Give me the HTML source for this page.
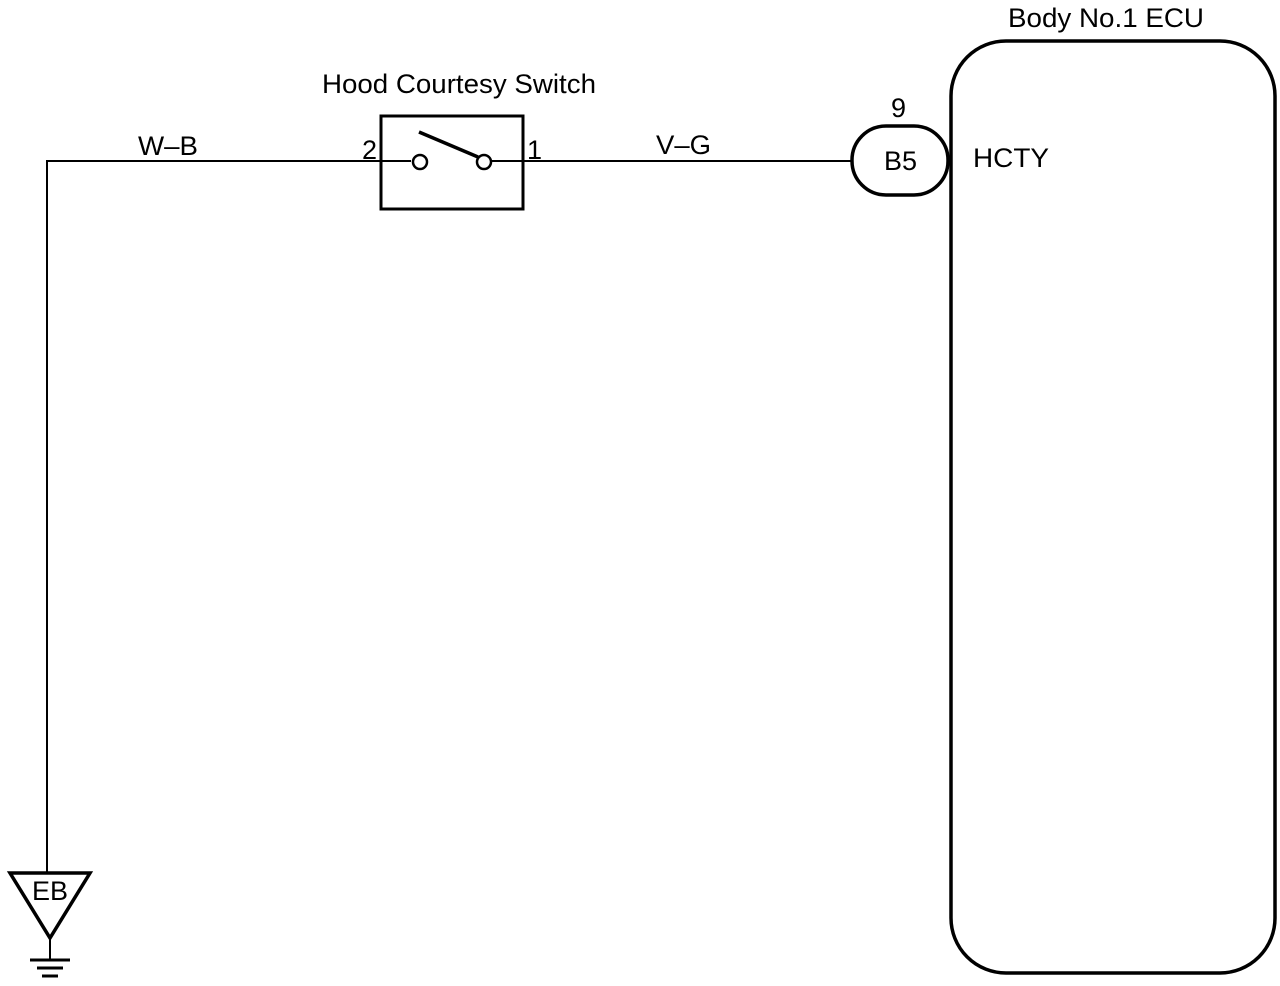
<!DOCTYPE html>
<html><head><style>body{margin:0;background:#fff}svg{display:block}</style></head>
<body>
<svg width="1280" height="986" viewBox="0 0 1280 986" xmlns="http://www.w3.org/2000/svg" font-family="Liberation Sans, sans-serif">
<g fill="none" stroke="#000">
<polyline points="47,873 47,161 411,161" stroke-width="2"/>
<line x1="491" y1="161" x2="853" y2="161" stroke-width="2"/>
<rect x="381" y="116" width="142" height="93" stroke-width="3"/>
<circle cx="420" cy="162" r="7" stroke-width="2.5"/>
<circle cx="484" cy="162" r="7" stroke-width="2.5"/>
<line x1="419" y1="132" x2="478" y2="157" stroke-width="3.5"/>
<rect x="852" y="126" width="96" height="69" rx="34" stroke-width="3.5"/>
<rect x="951" y="41" width="324" height="932" rx="55" stroke-width="3.5"/>
<polygon points="10,873 90,873 50,938" stroke-width="3.5"/>
<line x1="50" y1="938" x2="50" y2="959" stroke-width="2"/>
<line x1="30" y1="960" x2="70" y2="960" stroke-width="3"/>
<line x1="37" y1="968" x2="63" y2="968" stroke-width="3"/>
<line x1="42" y1="976" x2="58" y2="976" stroke-width="3"/>
</g>
<g font-size="27" fill="#000">
<text x="322" y="93" textLength="274" lengthAdjust="spacingAndGlyphs">Hood Courtesy Switch</text>
<text x="1008" y="27" textLength="196" lengthAdjust="spacingAndGlyphs">Body No.1 ECU</text>
<text x="138" y="155" textLength="60" lengthAdjust="spacingAndGlyphs">W–B</text>
<text x="656" y="154" textLength="55" lengthAdjust="spacingAndGlyphs">V–G</text>
<text x="362" y="159">2</text>
<text x="527" y="159">1</text>
<text x="891" y="117">9</text>
<text x="884" y="170">B5</text>
<text x="973" y="167" textLength="76" lengthAdjust="spacingAndGlyphs">HCTY</text>
<text x="32" y="900">EB</text>
</g>
</svg>
</body></html>
